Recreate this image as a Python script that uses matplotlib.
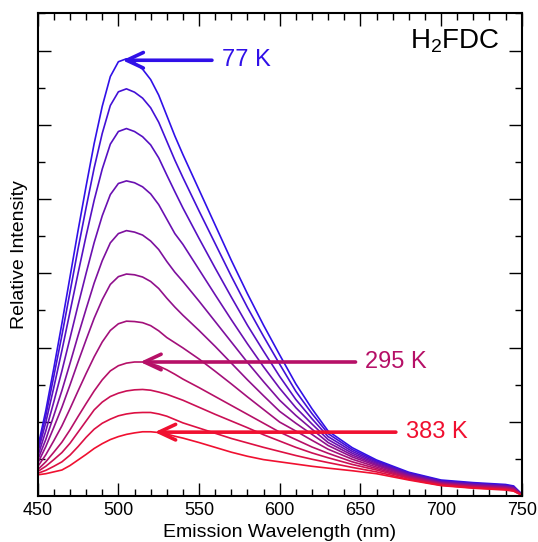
import numpy as np
import matplotlib
matplotlib.use('Agg')
import matplotlib.pyplot as plt

plt.rcParams['font.family'] = ['Liberation Sans', 'DejaVu Sans']
plt.rcParams['mathtext.fontset'] = 'custom'
plt.rcParams['mathtext.rm'] = 'Liberation Sans'
plt.rcParams['mathtext.it'] = 'Liberation Sans:italic'

# emission wavelength grid (nm)
wavelength = [450, 455, 460, 465, 470, 475, 480, 485, 490, 495, 500, 505,
              510, 515, 520, 525, 530, 535, 540, 550, 560, 570, 580, 590,
              600, 610, 620, 630, 645, 660, 680, 700, 720, 740, 745, 750]

# relative intensity, from 77 K (first) to 383 K (last)
I01 = [1.30, 2.30, 3.45, 4.65, 5.90, 7.15, 8.35, 9.50, 10.50, 11.30, 11.70, 11.78,
       11.68, 11.50, 11.22, 10.80, 10.25, 9.70, 9.20, 8.25, 7.30, 6.35, 5.45, 4.60,
       3.80, 3.02, 2.35, 1.75, 1.30, 0.97, 0.64, 0.43, 0.36, 0.31, 0.27, 0.05]
I02 = [1.24, 2.16, 3.23, 4.33, 5.49, 6.66, 7.77, 8.84, 9.77, 10.52, 10.89, 10.97,
       10.88, 10.72, 10.46, 10.07, 9.56, 9.05, 8.58, 7.68, 6.80, 5.92, 5.08, 4.30,
       3.55, 2.82, 2.22, 1.68, 1.25, 0.94, 0.62, 0.41, 0.34, 0.29, 0.25, 0.05]
I03 = [1.16, 1.98, 2.93, 3.92, 4.96, 6.00, 7.01, 7.97, 8.81, 9.48, 9.82, 9.90,
       9.82, 9.68, 9.46, 9.11, 8.65, 8.20, 7.76, 6.94, 6.14, 5.36, 4.60, 3.90,
       3.22, 2.60, 2.08, 1.60, 1.20, 0.91, 0.60, 0.39, 0.33, 0.28, 0.24, 0.05]
I04 = [1.06, 1.75, 2.54, 3.37, 4.25, 5.14, 6.00, 6.83, 7.55, 8.12, 8.42, 8.49,
       8.44, 8.33, 8.14, 7.85, 7.46, 7.07, 6.78, 6.10, 5.42, 4.75, 4.10, 3.48,
       2.90, 2.38, 1.94, 1.52, 1.15, 0.88, 0.58, 0.38, 0.31, 0.26, 0.22, 0.04]
I05 = [0.97, 1.52, 2.17, 2.84, 3.57, 4.32, 5.04, 5.74, 6.34, 6.82, 7.07, 7.15,
       7.11, 7.03, 6.87, 6.64, 6.32, 6.03, 5.78, 5.25, 4.70, 4.15, 3.60, 3.08,
       2.58, 2.17, 1.80, 1.44, 1.10, 0.85, 0.56, 0.36, 0.30, 0.25, 0.21, 0.04]
I06 = [0.88, 1.33, 1.85, 2.39, 2.99, 3.61, 4.21, 4.79, 5.29, 5.70, 5.91, 5.98,
       5.96, 5.90, 5.78, 5.59, 5.33, 5.09, 4.87, 4.46, 4.03, 3.58, 3.13, 2.70,
       2.28, 1.96, 1.66, 1.36, 1.05, 0.82, 0.54, 0.35, 0.28, 0.24, 0.20, 0.04]
I07 = [0.79, 1.11, 1.49, 1.89, 2.35, 2.83, 3.30, 3.75, 4.15, 4.46, 4.64, 4.71,
       4.70, 4.67, 4.59, 4.45, 4.27, 4.13, 3.99, 3.69, 3.36, 3.02, 2.67, 2.33,
       1.99, 1.75, 1.50, 1.26, 0.99, 0.78, 0.52, 0.34, 0.27, 0.22, 0.19, 0.03]
I08 = [0.71, 0.92, 1.18, 1.45, 1.78, 2.14, 2.49, 2.83, 3.13, 3.37, 3.51, 3.58,
       3.61, 3.61, 3.57, 3.50, 3.40, 3.28, 3.15, 2.92, 2.68, 2.44, 2.20, 1.96,
       1.72, 1.52, 1.32, 1.15, 0.92, 0.74, 0.50, 0.32, 0.25, 0.21, 0.17, 0.03]
I09 = [0.66, 0.80, 0.98, 1.17, 1.42, 1.72, 2.02, 2.32, 2.53, 2.68, 2.77, 2.83,
       2.86, 2.87, 2.85, 2.80, 2.74, 2.66, 2.58, 2.39, 2.20, 2.02, 1.84, 1.65,
       1.48, 1.31, 1.16, 1.03, 0.85, 0.70, 0.48, 0.31, 0.24, 0.19, 0.16, 0.03]
I10 = [0.61, 0.69, 0.80, 0.92, 1.10, 1.33, 1.58, 1.80, 1.96, 2.07, 2.16, 2.21,
       2.24, 2.25, 2.25, 2.21, 2.15, 2.06, 1.97, 1.83, 1.69, 1.55, 1.43, 1.31,
       1.20, 1.09, 0.99, 0.90, 0.77, 0.65, 0.45, 0.29, 0.22, 0.18, 0.14, 0.02]
I11 = [0.57, 0.60, 0.65, 0.70, 0.82, 0.97, 1.12, 1.28, 1.41, 1.52, 1.60, 1.66,
       1.70, 1.73, 1.73, 1.71, 1.67, 1.61, 1.56, 1.44, 1.31, 1.18, 1.07, 0.98,
       0.92, 0.86, 0.80, 0.75, 0.68, 0.60, 0.43, 0.28, 0.21, 0.16, 0.13, 0.02]
spectra = [I01, I02, I03, I04, I05, I06, I07, I08, I09, I10, I11]

# temperature labels: text, curve index, arrow tip and tail wavelengths (nm)
label_text = ['77 K', '295 K', '383 K']
label_curve = [0, 7, 10]
label_tip = [502.5, 513.5, 522.5]
label_tail = [558, 647, 672]

c_cold = np.array([0x30, 0x10, 0xe8]) / 255.
c_hot = np.array([0xf0, 0x10, 0x30]) / 255.
n = len(spectra)
colors = [tuple(c_cold + (c_hot - c_cold) * i / (n - 1)) for i in range(n)]

fig = plt.figure(figsize=(5.38, 5.42), dpi=100)
ax = fig.add_axes([0.0701, 0.0849, 0.8996, 0.8902])

for spec, col in zip(spectra, colors):
    ax.plot(wavelength, spec, color=col, lw=1.2)

for text, idx, tip_x, tail in zip(label_text, label_curve, label_tip, label_tail):
    tip_y = np.interp(tip_x, wavelength, spectra[idx])
    ax.annotate('', xy=(tip_x, tip_y), xytext=(tail, tip_y),
                arrowprops=dict(arrowstyle='->,head_length=0.6,head_width=0.28',
                                color=colors[idx], lw=2.6, mutation_scale=20,
                                shrinkA=0, shrinkB=0))
    ax.text(tail + 6, tip_y, text, color=colors[idx], fontsize=17,
            ha='left', va='center')

ax.text(0.955, 0.943, r'H$_2$FDC', transform=ax.transAxes, fontsize=20,
        ha='right', va='center')

ax.set_xlim(450, 750)
ax.set_ylim(0, 13)
ax.set_xticks(np.arange(450, 751, 50))
ax.set_xticks(np.arange(450, 751, 10), minor=True)
ax.set_yticks(np.arange(2, 13, 2))
ax.set_yticks(np.arange(1, 14, 2), minor=True)
ax.set_yticklabels([])
ax.tick_params(which='both', direction='in', top=True, right=True,
               width=1, color='black')
ax.tick_params(which='major', length=9.5, labelsize=13, pad=4)
ax.tick_params(which='minor', length=5)
for sp in ax.spines.values():
    sp.set_linewidth(1.5)

ax.set_xlabel('Emission Wavelength (nm)', fontsize=14, labelpad=4)
ax.set_ylabel('Relative Intensity', fontsize=14, labelpad=3)

fig.savefig('out.png', dpi=100)
